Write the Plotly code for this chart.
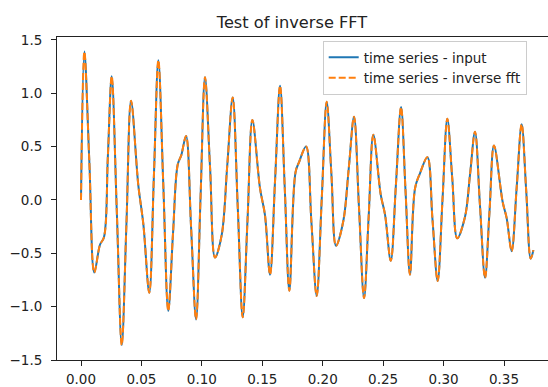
import plotly.graph_objects as go

# time (s) and values
t_values = [
    0.0000, 0.0028, 0.0069, 0.0110, 0.0157, 0.0190, 0.0222, 0.0254, 0.0296, 0.0337,
    0.0376, 0.0414, 0.0474, 0.0516, 0.0565, 0.0603, 0.0640, 0.0681, 0.0722, 0.0762,
    0.0800, 0.0830, 0.0869, 0.0911, 0.0952, 0.0989, 0.1026, 0.1068, 0.1109, 0.1164,
    0.1210, 0.1255, 0.1297, 0.1338, 0.1378, 0.1418, 0.1481, 0.1522, 0.1564, 0.1606,
    0.1647, 0.1686, 0.1724, 0.1775, 0.1806, 0.1862, 0.1906, 0.1950, 0.1992, 0.2033,
    0.2072, 0.2110, 0.2170, 0.2215, 0.2259, 0.2300, 0.2342, 0.2380, 0.2419, 0.2480,
    0.2516, 0.2563, 0.2606, 0.2648, 0.2685, 0.2722, 0.2764, 0.2805, 0.2866, 0.2908,
    0.2951, 0.2991, 0.3031, 0.3072, 0.3113, 0.3177, 0.3219, 0.3260, 0.3301, 0.3343,
    0.3380, 0.3417, 0.3489, 0.3522, 0.3563, 0.3605, 0.3646, 0.3684, 0.3721, 0.3743,
]
input_values = [
    0.00, 1.39, 0.36, -0.68, -0.42, -0.35, 0.40, 1.16, -0.10, -1.36,
    -0.22, 0.93, 0.14, -0.23, -0.87, 0.22, 1.31, 0.14, -1.04, -0.30,
    0.33, 0.42, 0.60, -0.26, -1.12, 0.02, 1.15, 0.30, -0.54, -0.33,
    0.32, 0.96, -0.07, -1.10, -0.18, 0.75, 0.11, -0.14, -0.70, 0.19,
    1.07, 0.11, -0.85, 0.26, 0.36, 0.50, -0.20, -0.90, 0.01, 0.92,
    0.24, -0.43, -0.20, 0.29, 0.78, -0.07, -0.92, -0.16, 0.61, 0.05,
    -0.14, -0.57, 0.15, 0.87, 0.09, -0.70, 0.11, 0.25, 0.40, -0.18,
    -0.76, 0.00, 0.76, 0.20, -0.36, -0.16, 0.24, 0.64, -0.05, -0.73,
    -0.11, 0.51, -0.02, -0.17, -0.48, 0.12, 0.71, 0.08, -0.55, -0.47,
]
ifft_values = list(input_values)

x_tick_vals = [0.00, 0.05, 0.10, 0.15, 0.20, 0.25, 0.30, 0.35]
x_tick_text = ["0.00", "0.05", "0.10", "0.15", "0.20", "0.25", "0.30", "0.35"]
y_tick_vals = [-1.5, -1.0, -0.5, 0.0, 0.5, 1.0, 1.5]
y_tick_text = ["\u22121.5", "\u22121.0", "\u22120.5", "0.0", "0.5", "1.0", "1.5"]

FONT = "DejaVu Sans"
TICK_SIZE = 13.5

fig = go.Figure()
fig.add_trace(go.Scatter(
    x=t_values, y=input_values, mode="lines", name="time series - input",
    line=dict(color="#1f77b4", width=2, shape="spline", smoothing=1.0),
))
fig.add_trace(go.Scatter(
    x=t_values, y=ifft_values, mode="lines", name="time series - inverse fft",
    line=dict(color="#ff7f0e", width=2, dash="7px,3px", shape="spline", smoothing=1.0),
))

axis_common = dict(
    showgrid=False, zeroline=False, showline=True, linecolor="#222222", linewidth=1,
    ticks="outside", ticklen=5, tickwidth=1, tickcolor="#222222",
    tickfont=dict(family=FONT, size=TICK_SIZE, color="#222222"),
)

fig.update_layout(
    width=548, height=387,
    margin=dict(l=57, r=0, t=37, b=25),
    paper_bgcolor="white", plot_bgcolor="white",
    font=dict(family=FONT, color="#222222"),
    title=dict(text="Test of inverse FFT", x=292 / 548, xref="container", xanchor="center",
               y=1 - 22.5 / 387, yref="container", yanchor="middle",
               font=dict(family=FONT, size=16.2, color="#222222")),
    xaxis=dict(range=[-0.01986, 0.3864], tickvals=x_tick_vals, ticktext=x_tick_text,
               mirror=True, ticklabelstandoff=2, **axis_common),
    yaxis=dict(range=[-1.5, 1.527], tickvals=y_tick_vals, ticktext=y_tick_text,
               ticklabelstandoff=6, **axis_common),
    legend=dict(x=(322.7 - 57) / 491, xanchor="left", y=1 - (41 - 37) / 325, yanchor="top",
                bgcolor="rgba(255,255,255,0.8)", bordercolor="#cccccc", borderwidth=1,
                font=dict(family=FONT, size=TICK_SIZE, color="#222222"),
                tracegroupgap=0),
    showlegend=True,
)

fig.write_html("out.html")
